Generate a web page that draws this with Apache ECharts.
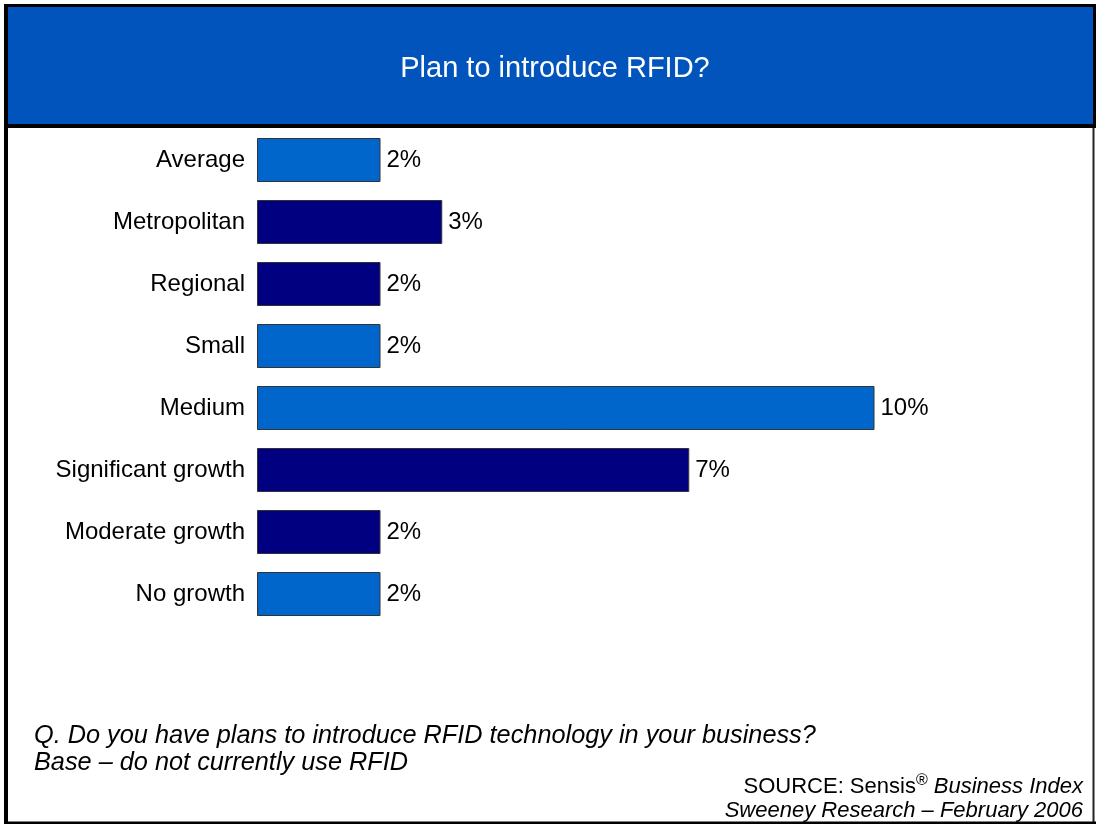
<!DOCTYPE html>
<html>
<head>
<meta charset="utf-8">
<script src="https://cdn.jsdelivr.net/npm/echarts@6/dist/echarts.min.js"></script>
<style>
html,body{margin:0;padding:0;background:#fff;}
#chart{width:1096px;height:824px;}
</style>
</head>
<body>
<div id="chart"></div>
<script>
// ---- data ----
const categories = ['Average', 'Metropolitan', 'Regional', 'Small', 'Medium', 'Significant growth', 'Moderate growth', 'No growth'];
const values = [2, 3, 2, 2, 10, 7, 2, 2];
const darkGroup = [false, true, true, false, false, true, true, false];
const titleText = 'Plan to introduce RFID?';
const noteLines = ['Q. Do you have plans to introduce RFID technology in your business?', 'Base \u2013 do not currently use RFID'];
const sourceLine2 = 'Sweeney Research \u2013 February 2006';

// ---- styles ----
const LIGHT = '#0066CC';
const DARK = '#000080';
const HEADER = '#0054BC';
const FONT = 'Arial, "Liberation Sans", Helvetica, sans-serif';

const chart = echarts.init(document.getElementById('chart'), null, {renderer: 'canvas'});
chart.setOption({
  backgroundColor: '#ffffff',
  animation: false,
  title: {
    text: titleText,
    left: 550,
    textAlign: 'center',
    top: 49,
    textStyle: {color: '#ffffff', fontSize: 29, fontWeight: 'normal', fontFamily: FONT}
  },
  grid: {left: 257, top: 129, width: 741, height: 496, containLabel: false},
  xAxis: {
    type: 'value', min: 0, max: 12, show: false
  },
  yAxis: {
    type: 'category', data: categories, inverse: true,
    axisLine: {show: false}, axisTick: {show: false}, splitLine: {show: false},
    axisLabel: {color: '#000', fontSize: 24, fontFamily: FONT, margin: 12}
  },
  series: [{
    type: 'bar',
    data: values,
    barWidth: 44,
    itemStyle: {
      color: p => darkGroup[p.dataIndex] ? DARK : LIGHT,
      borderColor: '#333333', borderWidth: 1
    },
    label: {
      show: true, position: 'right', distance: 6,
      formatter: p => p.value + '%',
      color: '#000', fontSize: 24, fontFamily: FONT
    }
  }],
  graphic: [
    {type: 'rect', z: -10, shape: {x: 6, y: 5, width: 1088, height: 121}, style: {fill: HEADER}},
    {type: 'line', z: 10, shape: {x1: 4, y1: 5.5, x2: 1096, y2: 5.5}, style: {stroke: '#000', lineWidth: 3}},
    {type: 'line', z: 10, shape: {x1: 4, y1: 126, x2: 1096, y2: 126}, style: {stroke: '#000', lineWidth: 4}},
    {type: 'line', z: 10, shape: {x1: 6, y1: 4, x2: 6, y2: 824}, style: {stroke: '#000', lineWidth: 4}},
    {type: 'line', z: 10, shape: {x1: 1094.5, y1: 4, x2: 1094.5, y2: 128}, style: {stroke: '#000', lineWidth: 3}},
    {type: 'line', z: 10, shape: {x1: 1093.5, y1: 128, x2: 1093.5, y2: 824}, style: {stroke: '#222', lineWidth: 2}},
    {type: 'line', z: 10, shape: {x1: 4, y1: 823, x2: 1096, y2: 823}, style: {stroke: '#000', lineWidth: 3}},
    {type: 'text', x: 34, y: 736, style: {text: noteLines[0], fill: '#000', fontSize: 25.3, fontStyle: 'italic', fontFamily: FONT, verticalAlign: 'middle', align: 'left'}},
    {type: 'text', x: 34, y: 763, style: {text: noteLines[1], fill: '#000', fontSize: 25.3, fontStyle: 'italic', fontFamily: FONT, verticalAlign: 'middle', align: 'left'}},
    {type: 'text', x: 1083, y: 787, style: {
      text: '{n|SOURCE: Sensis}{s|\u00AE}{i| Business Index}',
      align: 'right', verticalAlign: 'middle',
      rich: {
        n: {fontSize: 22, fontFamily: FONT, fill: '#000'},
        s: {fontSize: 16, fontFamily: FONT, fill: '#000', verticalAlign: 'top', padding: [0, 0, 12, 0]},
        i: {fontSize: 22, fontFamily: FONT, fontStyle: 'italic', fill: '#000'}
      }
    }},
    {type: 'text', x: 1083, y: 811, style: {text: sourceLine2, fill: '#000', fontSize: 22, fontStyle: 'italic', fontFamily: FONT, verticalAlign: 'middle', align: 'right'}}
  ]
});
</script>
</body>
</html>
